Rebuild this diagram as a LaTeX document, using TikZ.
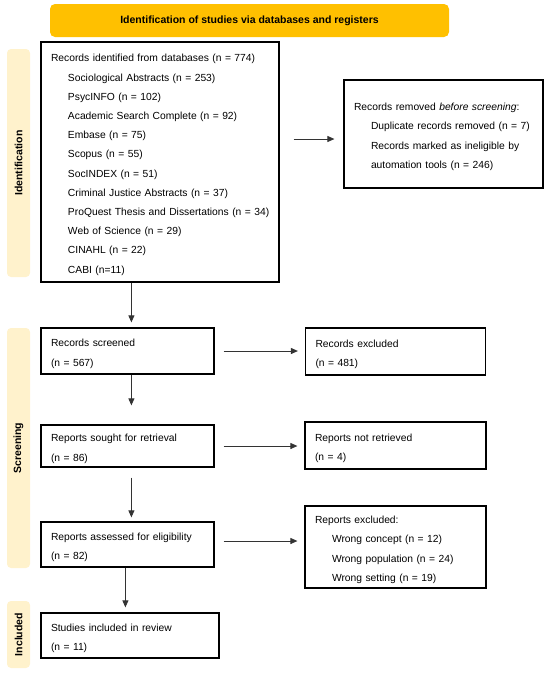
\documentclass[tikz,border=0pt]{standalone}
\usepackage{fontspec}
\setmainfont{Liberation Sans}
\usetikzlibrary{arrows.meta}

\newlength{\du}
\setlength{\du}{1pt}
\newcommand{\subline}{\hspace*{17\du}}

\definecolor{headgold}{rgb}{1.000000, 0.752941, 0.000000}
\definecolor{phasecream}{rgb}{1.000000, 0.949020, 0.800000}
\definecolor{arrowgray}{rgb}{0.200000, 0.200000, 0.200000}

\tikzset{
  flowbox/.style={draw=black, line width=1.2\du, fill=white, align=left,
    inner xsep=10\du, inner ysep=0\du, font=\fontsize{10.3}{19.2}\selectfont,
    execute at begin node={\rule{0pt}{13pt}}},
  phasebar/.style={fill=phasecream, rounded corners=4\du, rotate=90,
    inner sep=0\du, minimum height=23\du, font=\fontsize{10.5}{12}\selectfont\bfseries},
  flowarrow/.style={draw=arrowgray, line width=0.9pt,
    -{Triangle[length=7pt,width=6pt]}},
}

\begin{document}
\begin{tikzpicture}
\pgftransformxscale{1.000000}
\pgftransformyscale{-1.000000}
\useasboundingbox (0\du,0\du) rectangle (550\du,675\du);
% heading
\node[fill=headgold, rounded corners=5\du, inner sep=0\du, minimum width=399\du, minimum height=33\du,
  font=\fontsize{10.5}{12}\selectfont\bfseries] (heading) at (249.5\du,20.5\du)
  {Identification of studies via databases and registers};
% phase bars
\node[phasebar, minimum width=228\du] (phaseident) at (18.5\du,163\du) {Identification};
\node[phasebar, minimum width=240\du] (phasescreen) at (18.5\du,448\du) {Screening};
\node[phasebar, minimum width=67\du] (phaseincl) at (18.5\du,634.5\du) {Included};
% identification
\node[flowbox, text width=218\du, minimum height=240\du] (ident) at (160\du,162\du)
  {Records identified from databases (n = 774)\\
   \subline Sociological Abstracts (n = 253)\\
   \subline PsycINFO (n = 102)\\
   \subline Academic Search Complete (n = 92)\\
   \subline Embase (n = 75)\\
   \subline Scopus (n = 55)\\
   \subline SocINDEX (n = 51)\\
   \subline Criminal Justice Abstracts (n = 37)\\
   \subline \mbox{ProQuest Thesis and Dissertations (n = 34)}\\
   \subline Web of Science (n = 29)\\
   \subline CINAHL (n = 22)\\
   \subline CABI (n=11)};
\node[flowbox, text width=179\du, minimum height=108\du] (removed) at (443.5\du,134\du)
  {Records removed \textit{before screening}:\\
   \subline Duplicate records removed (n = 7)\\
   \subline Records marked as ineligible by\\
   \subline automation tools (n = 246)};
% screening
\node[flowbox, text width=153\du, minimum height=46\du] (screened) at (127.5\du,351\du)
  {Records screened\\(n = 567)};
\node[flowbox, text width=160\du, minimum height=47\du] (recexcl) at (395.5\du,351.5\du)
  {Records excluded\\(n = 481)};
\node[flowbox, text width=153\du, minimum height=42\du] (sought) at (127.5\du,446\du)
  {Reports sought for retrieval\\(n = 86)};
\node[flowbox, text width=161\du, minimum height=47\du] (notretr) at (395.5\du,445.5\du)
  {Reports not retrieved\\(n = 4)};
\node[flowbox, text width=153\du, minimum height=45\du] (assessed) at (127.5\du,544.5\du)
  {Reports assessed for eligibility\\(n = 82)};
\node[flowbox, text width=161\du, minimum height=82\du] (repexcl) at (395.5\du,547\du)
  {Reports excluded:\\
   \subline Wrong concept (n = 12)\\
   \subline Wrong population (n = 24)\\
   \subline Wrong setting (n = 19)};
% included
\node[flowbox, text width=158\du, minimum height=45\du] (included) at (130\du,635.5\du)
  {Studies included in review\\(n = 11)};
% connectors
\coordinate (rowremoved) at (0\du,139\du);
\coordinate (rowassessed) at (0\du,541\du);
\draw[flowarrow, shorten <=14pt, shorten >=9pt] (ident.east |- rowremoved) -- (removed.west |- rowremoved);
\draw[flowarrow, shorten >=5pt] ([xshift=91pt]ident.south west) -- ([xshift=91pt]screened.north west);
\draw[flowarrow, shorten <=9pt, shorten >=7pt] (screened.east) -- (screened.east -| recexcl.west);
\draw[flowarrow, shorten >=19pt] ([xshift=91pt]screened.south west) -- ([xshift=91pt]sought.north west);
\draw[flowarrow, shorten <=9pt, shorten >=7pt] (sought.east) -- (sought.east -| notretr.west);
\draw[flowarrow, shorten <=10pt, shorten >=4pt] ([xshift=91pt]sought.south west) -- ([xshift=91pt]assessed.north west);
\draw[flowarrow, shorten <=9pt, shorten >=7pt] (assessed.east |- rowassessed) -- (repexcl.west |- rowassessed);
\draw[flowarrow, shorten >=5pt] ([xshift=85pt]assessed.south west) -- ([xshift=85pt]included.north west);
\end{tikzpicture}
\end{document}
